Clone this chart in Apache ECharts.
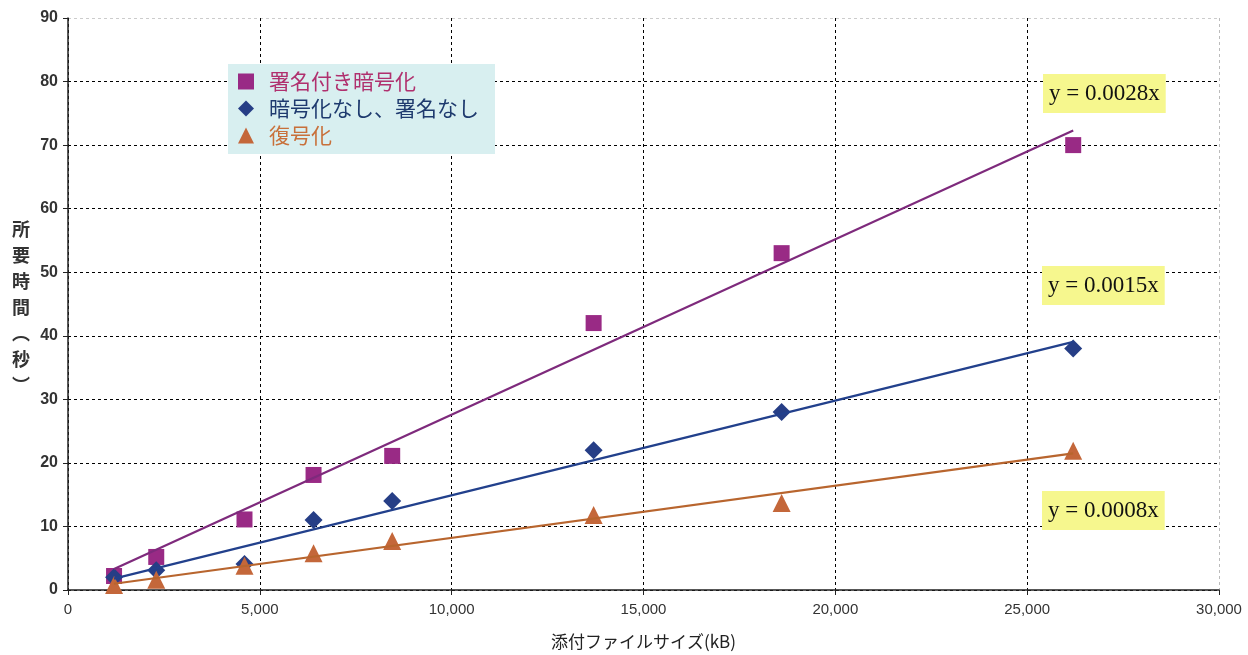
<!DOCTYPE html>
<html>
<head>
<meta charset="utf-8">
<script src="https://cdn.jsdelivr.net/npm/echarts@6/dist/echarts.min.js"></script>
<style>
html,body{margin:0;padding:0;background:#fff;}
#main{width:1248px;height:655px;}
</style>
</head>
<body>
<div id="main"></div>
<script>
// ---- data ----
const fileSizes = [1200, 2300, 4600, 6400, 8450, 13700, 18600, 26200];
const signedEncrypted = [2.2, 5.2, 11.1, 18.1, 21.1, 42, 53, 70];
const plain = [2, 3.1, 4.1, 11, 14, 22, 28, 38];
const decrypt = [0.8, 1.6, 3.8, 5.8, 7.7, 11.8, 13.7, 21.9];
const seriesNames = ['署名付き暗号化', '暗号化なし、署名なし', '復号化'];
const trendSlopes = [0.00276, 0.00149, 0.00082];
const trendLabels = ['y = 0.0028x', 'y = 0.0015x', 'y = 0.0008x'];
const xTicks = [0, 5000, 10000, 15000, 20000, 25000, 30000];
const yTicks = [0, 10, 20, 30, 40, 50, 60, 70, 80, 90];

const markerColors = ['#992a85', '#263e86', '#c4673a'];
const lineColors = ['#7e2a7c', '#22408c', '#b8652e'];
const textColors = ['#b0306e', '#1e3a6e', '#c8703a'];
const symbols = ['rect', 'diamond', 'triangle'];
const symbolSizes = [16, 18, 18];
const allSeries = [signedEncrypted, plain, decrypt];

const xMin = Math.min(...fileSizes), xMax = Math.max(...fileSizes);

const series = [];
allSeries.forEach((vals, i) => {
  series.push({
    name: seriesNames[i],
    type: 'scatter',
    symbol: symbols[i],
    symbolSize: symbolSizes[i],
    itemStyle: {color: markerColors[i], opacity: 1},
    data: fileSizes.map((x, k) => [x, vals[k]]),
    z: 3
  });
});
allSeries.forEach((vals, i) => {
  series.push({
    name: 'trend' + i,
    type: 'line',
    showSymbol: false,
    symbol: 'none',
    silent: true,
    lineStyle: {color: lineColors[i], width: 2.2},
    data: [[xMin, trendSlopes[i] * xMin], [xMax, trendSlopes[i] * xMax]],
    z: 4
  });
});

const chart = echarts.init(document.getElementById('main'), null, {renderer: 'canvas'});

const eqBoxes = [
  {left: 1043, top: 74},
  {left: 1042, top: 266},
  {left: 1042, top: 491}
];

const option = {
  backgroundColor: '#ffffff',
  animation: false,
  grid: {left: 68, right: 29, top: 18, bottom: 65, containLabel: false},
  legend: {
    left: 228, top: 64,
    orient: 'vertical',
    padding: [7, 16, 8, 10],
    itemGap: 6,
    itemWidth: 16, itemHeight: 16,
    backgroundColor: '#d8eff0',
    data: seriesNames.map((n, i) => ({
      name: n,
      icon: symbols[i],
      itemStyle: {color: markerColors[i], opacity: 1},
      textStyle: {color: textColors[i], fontSize: 21, fontFamily: 'Noto Sans CJK JP', padding: [0, 0, 0, 10]}
    })),
    selectedMode: false
  },
  xAxis: {
    type: 'value',
    min: xTicks[0], max: xTicks[xTicks.length - 1], interval: xTicks[1] - xTicks[0],
    name: '添付ファイルサイズ(kB)',
    nameLocation: 'middle',
    nameGap: 43,
    nameTextStyle: {fontSize: 17, color: '#222', fontFamily: 'Noto Sans CJK JP'},
    axisLine: {show: true, onZero: false, lineStyle: {color: '#222', width: 1.5}},
    axisTick: {show: true, length: 5, inside: false, lineStyle: {color: '#222'}},
    axisLabel: {
      margin: 12, fontSize: 15, color: '#333', fontFamily: 'Liberation Sans',
      formatter: v => v.toLocaleString('en-US')
    },
    splitLine: {show: true, lineStyle: {color: ['#000', '#000', '#000', '#000', '#000', '#000', '#bbb'], type: [3, 3], width: 1}}
  },
  yAxis: {
    type: 'value',
    min: yTicks[0], max: yTicks[yTicks.length - 1], interval: yTicks[1] - yTicks[0],
    axisLine: {show: true, onZero: false, lineStyle: {color: '#222', width: 1.5}},
    axisTick: {show: true, length: 5, lineStyle: {color: '#222'}},
    axisLabel: {margin: 10, fontSize: 16, color: '#333', fontFamily: 'Liberation Sans', fontWeight: 'bold'},
    splitLine: {show: true, lineStyle: {color: ['#000', '#000', '#000', '#000', '#000', '#000', '#000', '#000', '#000', '#ccc'], type: [3, 3], width: 1}}
  },
  graphic: [
    {
      type: 'text',
      left: 12, top: 216,
      style: {
        text: '所\n要\n時\n間\n︵\n秒\n︶',
        fontSize: 18, fontWeight: 'bold', lineHeight: 26,
        fill: '#333', fontFamily: 'Noto Sans CJK JP', align: 'center'
      }
    }
  ].concat(trendLabels.map((t, i) => ({
    type: 'text',
    left: eqBoxes[i].left, top: eqBoxes[i].top,
    z: 10,
    style: {
      text: t,
      fontSize: 23,
      fontFamily: 'Liberation Serif',
      fill: '#111',
      backgroundColor: '#f6f78e',
      padding: [8, 6, 8, 6]
    }
  }))),
  series: series
};
chart.setOption(option);
</script>
</body>
</html>
